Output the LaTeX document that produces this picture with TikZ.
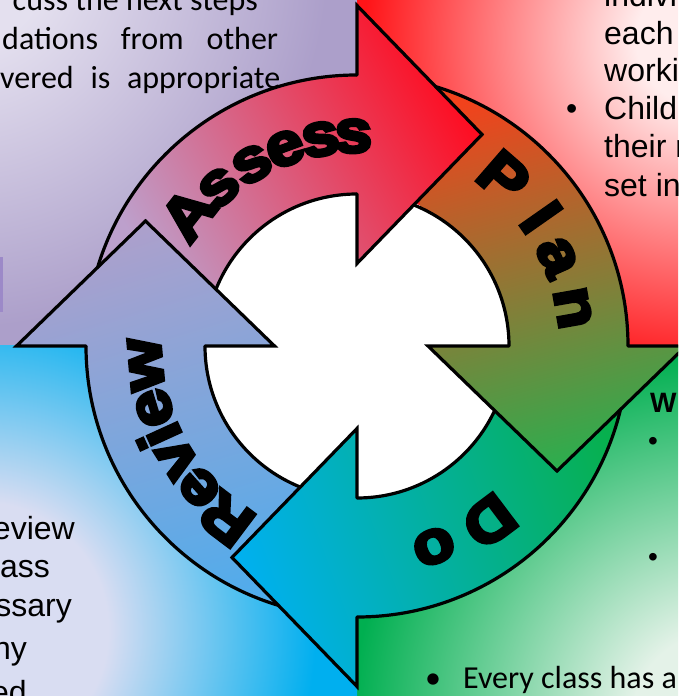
\documentclass[tikz,border=0pt]{standalone}
\usepackage{fontspec}
\setmainfont{Liberation Sans}
\newfontfamily\calibri{Carlito}
\newfontfamily\arrowfont{Liberation Sans}[UprightFont={* Bold},FakeBold=6,FakeStretch=1.12]
\usetikzlibrary{calc}

\definecolor{purpleLight}{HTML}{E4E0EF}
\definecolor{purpleDark}{HTML}{AC9FCA}
\definecolor{redLight}{HTML}{FFEDED}
\definecolor{redDark}{HTML}{FF1418}
\definecolor{greenLight}{HTML}{E4F2E8}
\definecolor{greenDark}{HTML}{00AF50}
\definecolor{blueLight}{HTML}{D9DDF2}
\definecolor{blueDark}{HTML}{00AFEF}
\definecolor{purpleTab}{HTML}{9C89C8}
\definecolor{assessA}{HTML}{BDA0CC}
\definecolor{assessB}{HTML}{E0708E}
\definecolor{assessC}{HTML}{FF0A1E}
\definecolor{planA}{HTML}{F2421C}
\definecolor{planB}{HTML}{B88540}
\definecolor{planC}{HTML}{2EAD4E}
\definecolor{doA}{HTML}{07B04E}
\definecolor{doB}{HTML}{00B0A5}
\definecolor{doC}{HTML}{00B0F0}
\definecolor{reviewA}{HTML}{ACA0CC}
\definecolor{reviewC}{HTML}{4FACEC}

% panel shadings
\pgfdeclareradialshading{purplepanel}{\pgfpoint{0bp}{0bp}}{color(0bp)=(purpleLight); color(2.75bp)=(purpleLight); color(11.5bp)=(purpleDark); color(50bp)=(purpleDark)}
\pgfdeclareradialshading{redpanel}{\pgfpoint{0bp}{0bp}}{color(0bp)=(redLight); color(2bp)=(redLight); color(10.5bp)=(redDark); color(50bp)=(redDark)}
\pgfdeclareradialshading{greenpanel}{\pgfpoint{0bp}{0bp}}{color(0bp)=(greenLight); color(2.75bp)=(greenLight); color(11.5bp)=(greenDark); color(50bp)=(greenDark)}
\pgfdeclareradialshading{bluepanel}{\pgfpoint{0bp}{0bp}}{color(0bp)=(blueLight); color(4bp)=(blueLight); color(10.5bp)=(blueDark); color(50bp)=(blueDark)}

% ring sizes
\newcommand{\rin}{152}
\newcommand{\rout}{271}
\newcommand{\headhalf}{129}
\newcommand{\headlen}{125}

% ring body, head and outlines
\newcommand{\ringpath}[2]{($(C)+(#1:\rout)$) arc[start angle=#1, end angle=#2, radius=\rout] -- ($(C)+(#2:\rin)$) arc[start angle=#2, end angle=#1, radius=\rin] -- cycle}
\newcommand{\ringedge}[2]{($(C)+(#1:\rout)$) arc[start angle=#1, end angle=#2, radius=\rout] ($(C)+(#1:\rin)$) arc[start angle=#1, end angle=#2, radius=\rin]}
\newcommand{\headpath}[2]{($(C)+(#1:\rout)$) -- ($(C)+(#1:#2+\headhalf)$) -- ($(C)+(#1:#2)+(#1-90:\headlen)$) -- ($(C)+(#1:#2-\headhalf)$) -- ($(C)+(#1:\rin)$)}

\begin{document}
\begin{tikzpicture}[x=1pt,y=1pt]

		\tikzset{outline/.style = {draw=black, line width=3.2pt, line join=miter, line cap=round}}
		\tikzset{letter/.style = {font=\arrowfont\fontsize{60}{60}\selectfont, anchor=base, inner sep=0pt}}
		\tikzset{calibritext/.style = {font=\calibri\fontsize{32}{38}\selectfont, anchor=base west, inner sep=0pt}}
		\tikzset{arialtext/.style = {font=\fontsize{32}{38}\selectfont, anchor=base west, inner sep=0pt}}
		\tikzset{assessfill/.style = {top color=assessC, middle color=assessB, bottom color=assessA, shading angle=-60}}
		\tikzset{planfill/.style = {top color=planA, middle color=planB, bottom color=planC, shading angle=15}}
		\tikzset{dofill/.style = {top color=doA, middle color=doB, bottom color=doC, shading angle=-70}}
		\tikzset{reviewfill/.style = {top color=reviewA, bottom color=reviewC, shading angle=17}}

		\useasboundingbox (0,0) rectangle (678,696);
		\clip (0,0) rectangle (678,696);
		\coordinate (C) at (357,350);

		% panels
		\begin{scope}
			\clip (0,350) rectangle (357,696);
			\shade[shading=purplepanel] (-40,736) circle (800);
		\end{scope}
		\begin{scope}
			\clip (357,350) rectangle (678,696);
			\shade[shading=redpanel] (700,656) circle (800);
		\end{scope}
		\begin{scope}
			\clip (357,0) rectangle (678,350);
			\shade[shading=greenpanel] (720,-24) circle (800);
		\end{scope}
		\begin{scope}
			\clip (0,0) rectangle (357,350);
			\shade[shading=bluepanel] (-20,66) circle (800);
		\end{scope}
		\fill[purpleTab] (-10,384) rectangle (3,439);

		% panel texts
		\node[calibritext, anchor=base east] (tl1) at (258,685) {cuss the next steps};
		\node[calibritext] (tl2) at (2,646) {\makebox[276pt][s]{dations from other}};
		\node[calibritext] (tl3) at (0,607) {\makebox[280pt][s]{vered is appropriate}};

		\node[arialtext] (tr1) at (604,689) {indivi};
		\node[arialtext] (tr2) at (604,651) {each};
		\node[arialtext] (tr3) at (604,614) {worki};
		\node[arialtext] (tr4) at (566,576) {•};
		\node[arialtext] (tr5) at (604,576) {Child};
		\node[arialtext] (tr6) at (604,538) {their r};
		\node[arialtext] (tr7) at (604,499) {set in};

		\node[arialtext, font=\bfseries\fontsize{28}{34}\selectfont] (br1) at (650,283) {W};
		\node[arialtext, font=\fontsize{28}{34}\selectfont] (br2) at (648,245) {•};
		\node[arialtext, font=\fontsize{28}{34}\selectfont] (br3) at (648,129) {•};
		\node[calibritext] (bm1) at (425,8) {•};
		\node[calibritext] (bm2) at (463,8) {Every class has a};

		\node[arialtext, anchor=base east] (bl1) at (75,156) {eview};
		\node[arialtext, anchor=base east] (bl2) at (50,118) {ass};
		\node[arialtext, anchor=base east] (bl3) at (72,79) {ssary};
		\node[arialtext, anchor=base east] (bl4) at (27,36) {ny};
		\node[arialtext, anchor=base east] (bl5) at (27,-8) {ed};

		% centre
		\fill[white] (C) circle (154);

		% arrow bodies
		\begin{scope}
			\clip \ringpath{174}{90};
			\shade[assessfill] (85,406) rectangle (485,696);
		\end{scope}
		\draw[outline] \ringedge{174}{90};

		\begin{scope}
			\clip \ringpath{84}{0};
			\shade[planfill] (420,221) rectangle (680,626);
		\end{scope}
		\draw[outline] \ringedge{84}{0};

		\begin{scope}
			\clip \ringpath{-6}{-90};
			\shade[dofill] (230,-4) rectangle (630,356);
		\end{scope}
		\draw[outline] \ringedge{-6}{-90};

		\begin{scope}
			\clip \ringpath{-96}{-180};
			\shade[reviewfill] (15,76) rectangle (360,481);
		\end{scope}
		\draw[outline] \ringedge{-96}{-180};

		% arrow heads
		\begin{scope}
			\clip \headpath{90}{211.5} -- cycle;
			\shade[assessfill] (85,406) rectangle (485,696);
		\end{scope}
		\draw[outline] \headpath{90}{211.5};

		\begin{scope}
			\clip \headpath{0}{200} -- cycle;
			\shade[planfill] (420,221) rectangle (680,626);
		\end{scope}
		\draw[outline] \headpath{0}{200};

		\begin{scope}
			\clip \headpath{-90}{211.5} -- cycle;
			\shade[dofill] (230,-4) rectangle (630,356);
		\end{scope}
		\draw[outline] \headpath{-90}{211.5};

		\begin{scope}
			\clip \headpath{-180}{211.5} -- cycle;
			\shade[reviewfill] (15,76) rectangle (360,481);
		\end{scope}
		\draw[outline] \headpath{-180}{211.5};

		% labels
		\foreach \ch/\ang [count=\i] in {A/142, s/131, s/120, e/110, s/100, s/91}
			\node[letter, rotate=\ang-90] (assess\i) at ($(C)+(\ang:194)$) {\ch};
		\foreach \ch/\ang [count=\i] in {P/49, l/35, a/24, n/10}
			\node[letter, rotate=\ang-90] (plan\i) at ($(C)+(\ang:203)$) {\ch};
		\foreach \ch/\ang [count=\i] in {D/-53, o/-69}
			\node[letter, rotate=\ang-90] (do\i) at ($(C)+(\ang:199)$) {\ch};
		\foreach \ch/\ang [count=\i] in {R/233, e/222, v/212, i/204.5, e/197, w/185}
			\node[letter, rotate=\ang-90] (review\i) at ($(C)+(\ang:196)$) {\ch};

\end{tikzpicture}
\end{document}
